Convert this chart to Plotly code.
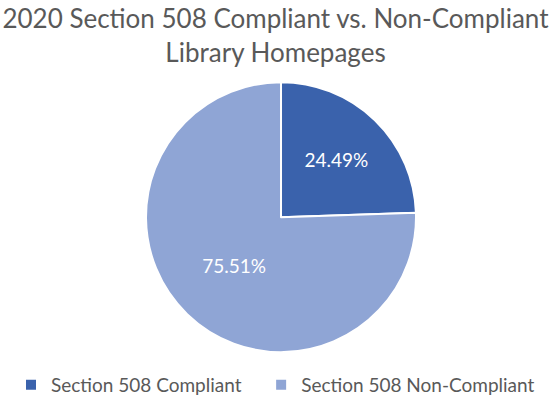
import plotly.graph_objects as go

labels = ["Section 508 Compliant", "Section 508 Non-Compliant"]
values = [24.49, 75.51]
colors = ["#3A62AC", "#8FA5D5"]

FONT = "Lato, Open Sans, sans-serif"
GRAY = "#595959"

# a little extra space after the first legend entry, as in the reference
legend_labels = [labels[0] + "\u00a0" * 3, labels[1]]

fig = go.Figure(go.Pie(
    labels=legend_labels,
    values=values,
    sort=False,
    direction="clockwise",
    rotation=0,
    marker={"colors": colors, "line": {"color": "#FFFFFF", "width": 2}},
    texttemplate="%{value:.2f}%",
    textposition="inside",
    insidetextorientation="horizontal",
    textfont={"color": "#FFFFFF", "size": 19, "family": FONT},
    hoverinfo="label+percent",
    domain={"x": [0.265, 0.755], "y": [0.125, 0.80]},
))

fig.update_layout(
    width=551, height=404,
    paper_bgcolor="#FFFFFF",
    font={"family": FONT, "color": GRAY},
    title={
        "text": "2020 Section 508 Compliant vs. Non-Compliant<br>Library Homepages",
        "x": 0.5, "xanchor": "center", "y": 0.93, "yanchor": "top",
        "font": {"size": 26, "color": GRAY, "family": FONT},
    },
    legend={
        "orientation": "h", "x": 0.5, "xanchor": "center",
        "y": 0.0, "yanchor": "bottom",
        "font": {"size": 19, "color": GRAY, "family": FONT},
    },
    margin={"l": 0, "r": 0, "t": 0, "b": 0},
)

# drop the default page margin so the figure sits at the window's top-left
fig.write_html("out.html", config={"displayModeBar": False},
               post_script="document.body.style.margin='0';")
